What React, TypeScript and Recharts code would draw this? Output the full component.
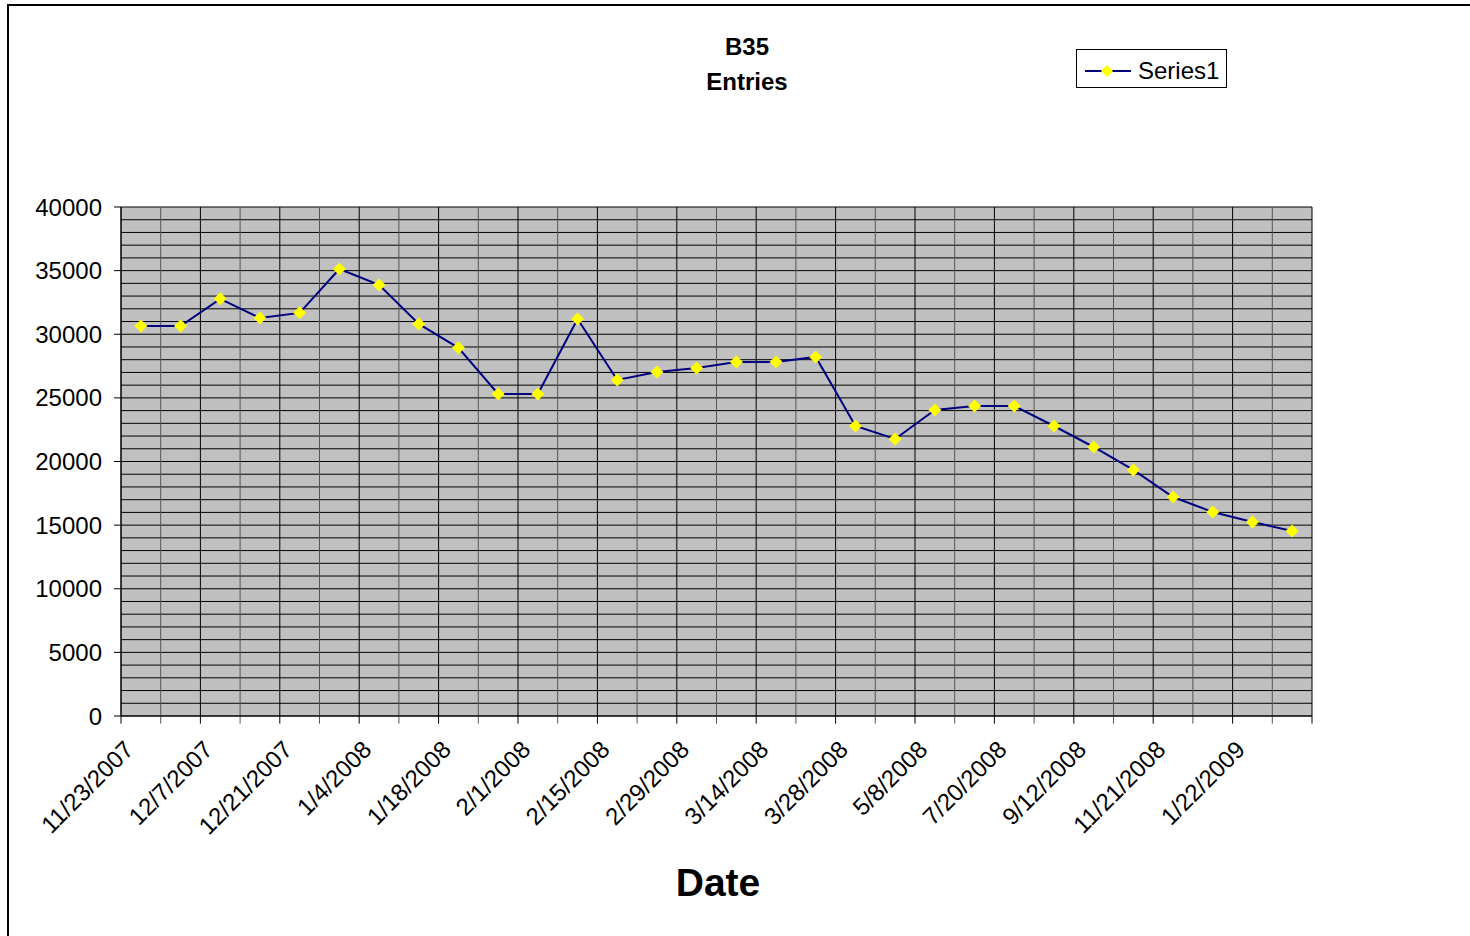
import { LineChart, Line, XAxis, YAxis, CartesianGrid, ReferenceLine } from 'recharts';

// one entry per weekly/monthly reading, as plotted
const dates = [
  '11/23/2007', '11/30/2007', '12/7/2007', '12/14/2007', '12/21/2007',
  '12/28/2007', '1/4/2008', '1/11/2008', '1/18/2008', '1/25/2008',
  '2/1/2008', '2/8/2008', '2/15/2008', '2/22/2008', '2/29/2008',
  '3/7/2008', '3/14/2008', '3/21/2008', '3/28/2008', '4/18/2008',
  '5/8/2008', '6/12/2008', '7/20/2008', '8/15/2008', '9/12/2008',
  '10/17/2008', '11/21/2008', '12/19/2008', '1/22/2009', '2/19/2009'
];

const entries = [
  30650, 30650, 32780, 31280, 31680,
  35130, 33880, 30810, 28930, 25310,
  25310, 31200, 26410, 27040, 27350,
  27820, 27820, 28220, 22790, 21770,
  24050, 24370, 24370, 22790, 21140,
  19340, 17210, 16030, 15250, 14540
];

const yTicks = [0, 5000, 10000, 15000, 20000, 25000, 30000, 35000, 40000];

// slot = category index centre, used only by the hidden boundary axis
const data = dates.map((date, i) => ({ date, entries: entries[i], slot: i + 0.5 }));

// minor gridlines every 1000, category boundaries on a hidden 0..n axis
const gridValues = Array.from({ length: 41 }, (_, i) => i * 1000);
const boundaries = Array.from({ length: dates.length + 1 }, (_, i) => i);

const FONT = '"Liberation Sans", Arial, sans-serif';

const Diamond = (props: any) => {
  const { cx, cy } = props;
  if (cx == null || cy == null) return null;
  const r = 6.5;
  return (
    <polygon
      points={`${cx},${cy - r} ${cx + r},${cy} ${cx},${cy + r} ${cx - r},${cy}`}
      fill="#ffff00"
    />
  );
};

const DateTick = (props: any) => {
  const { x, y, payload } = props;
  const tx = x - 6;
  return (
    <text
      x={tx}
      y={y}
      transform={`rotate(-45, ${tx}, ${y})`}
      textAnchor="end"
      fontSize={24}
      fontFamily={FONT}
      fill="#000"
    >
      {payload.value}
    </text>
  );
};

export default function App() {
  return (
    <div
      style={{
        position: 'absolute',
        left: 0,
        top: 0,
        width: 1470,
        height: 936,
        overflow: 'hidden',
        background: '#fff',
        fontFamily: FONT
      }}
    >
      <div
        style={{
          position: 'absolute',
          left: 7,
          top: 4,
          width: 1600,
          height: 1100,
          borderLeft: '2px solid #000',
          borderTop: '2px solid #000'
        }}
      />

      <div
        style={{
          position: 'absolute',
          left: 547,
          top: 29,
          width: 400,
          textAlign: 'center',
          fontWeight: 'bold',
          fontSize: 24,
          lineHeight: '35px'
        }}
      >
        <div>B35</div>
        <div>Entries</div>
      </div>

      <div
        style={{
          position: 'absolute',
          left: 518,
          top: 859,
          width: 400,
          textAlign: 'center',
          fontWeight: 'bold',
          fontSize: 39,
          lineHeight: '47px'
        }}
      >
        Date
      </div>

      <div
        style={{
          position: 'absolute',
          left: 1076,
          top: 49,
          width: 149,
          height: 37,
          border: '1px solid #000',
          background: '#fff'
        }}
      >
        <svg width={149} height={37} style={{ position: 'absolute', left: 0, top: 0 }}>
          <line x1={8} y1={21} x2={54} y2={21} stroke="#000080" strokeWidth={2} />
          <polygon points="30,15 36,21 30,27 24,21" fill="#ffff00" />
          <text x={61} y={29} fontSize={24} fontFamily={FONT} fill="#000">
            Series1
          </text>
        </svg>
      </div>

      <div style={{ position: 'absolute', left: 0, top: 0 }}>
        <LineChart
          width={1470}
          height={936}
          data={data}
          margin={{ top: 207, right: 158, bottom: 90, left: 51 }}
        >
          <CartesianGrid
            vertical={false}
            horizontalValues={gridValues}
            stroke="#000"
            strokeWidth={1}
            fill="#c0c0c0"
            fillOpacity={1}
          />
          <XAxis
            dataKey="date"
            height={130}
            interval={1}
            padding={{ left: 19.85, right: 19.85 }}
            tickLine={false}
            tickSize={0}
            tickMargin={35}
            axisLine={{ stroke: '#000', strokeWidth: 1 }}
            tick={<DateTick />}
          />
          <XAxis
            xAxisId="bounds"
            dataKey="slot"
            type="number"
            domain={[0, dates.length]}
            allowDataOverflow
            hide
          />
          <YAxis
            width={70}
            domain={[0, 40000]}
            ticks={yTicks}
            interval={0}
            tickSize={7}
            tickMargin={12}
            axisLine={{ stroke: '#000', strokeWidth: 1 }}
            tickLine={{ stroke: '#000' }}
            tick={{ fontSize: 24, fill: '#000', fontFamily: FONT }}
          />
          {boundaries.map((b) => (
            <ReferenceLine
              key={b}
              xAxisId="bounds"
              ifOverflow="visible"
              segment={[
                { x: b, y: -600 },
                { x: b, y: 40000 }
              ]}
              stroke={b % 2 === 0 ? '#000' : '#555'}
              strokeWidth={1}
            />
          ))}
          <Line
            type="linear"
            dataKey="entries"
            stroke="#000080"
            strokeWidth={2}
            dot={<Diamond />}
            activeDot={false}
            isAnimationActive={false}
          />
        </LineChart>
      </div>
    </div>
  );
}
